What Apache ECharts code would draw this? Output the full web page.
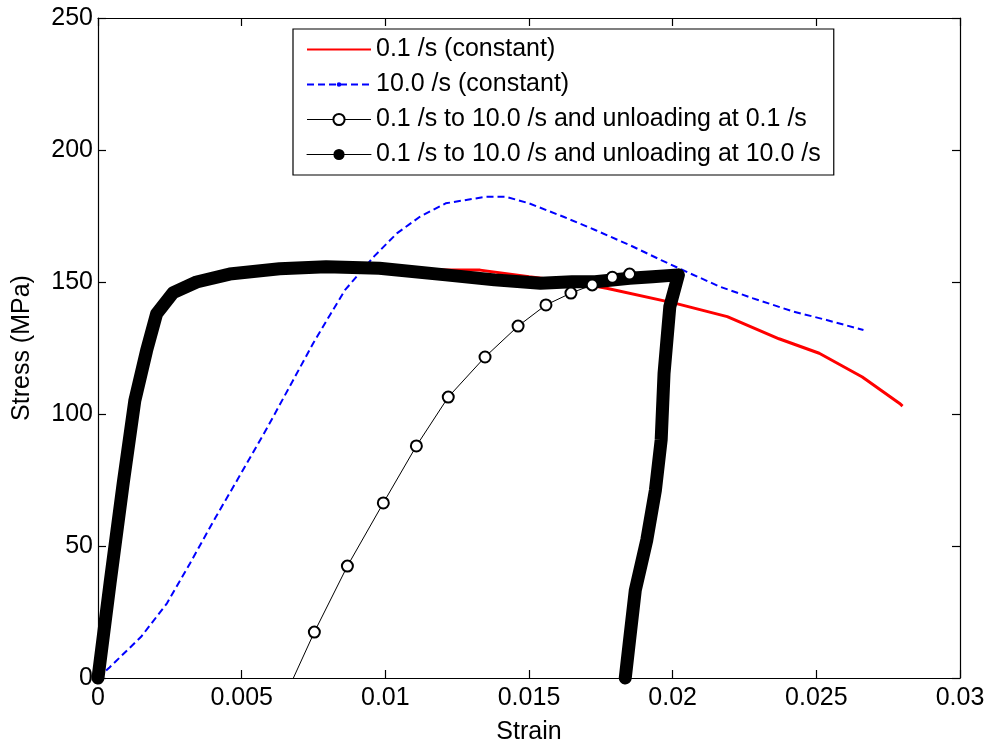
<!DOCTYPE html>
<html>
<head>
<meta charset="utf-8">
<script src="https://cdn.jsdelivr.net/npm/echarts@6/dist/echarts.min.js"></script>
<style>html,body{margin:0;padding:0;background:#fff}#chart{width:991px;height:750px}</style>
</head>
<body>
<div id="chart"></div>
<script>
// ---- data ----
const seriesNames = [
  '0.1 /s (constant)',
  '10.0 /s (constant)',
  '0.1 /s to 10.0 /s and unloading at 0.1 /s',
  '0.1 /s to 10.0 /s and unloading at 10.0 /s'
];
const xTickLabels = ['0', '0.005', '0.01', '0.015', '0.02', '0.025', '0.03'];
const yTickLabels = ['0', '50', '100', '150', '200', '250'];

// [strain, stress MPa]
const constant01 = [
  [0,0],[0.00042,36],[0.00088,74],[0.00128,105],[0.00169,124],[0.00204,138],[0.00262,146],
  [0.00343,150],[0.00458,153],[0.00632,155],[0.00794,156],[0.00979,155.5],[0.0121,154.5],
  [0.0133,154.5],[0.0150,152],[0.0165,150],[0.0177,147.6],[0.0201,141.9],[0.0219,136.9],
  [0.0237,128.5],[0.0251,123],[0.0266,114],[0.0279,104],[0.0280,103]
];
const constant10 = [
  [0,0],[0.0004,4],[0.0015,15.6],[0.0024,28.3],[0.0032,43.4],[0.0041,61],[0.0049,76],
  [0.0059,95],[0.0068,113],[0.0075,127],[0.0081,138],[0.0086,147],[0.0096,159.6],
  [0.0104,168.4],[0.0112,174.7],[0.0121,179.8],[0.0135,182.3],[0.0142,182.3],[0.0150,179.8],
  [0.0162,174.7],[0.0173,169.7],[0.0185,164],[0.0196,158.3],[0.0206,153.3],[0.02165,148.2],
  [0.0228,143.8],[0.0242,138.8],[0.02536,135.6],[0.02664,131.8]
];
const unload01Start = [0.0068, 0];
const unload01 = [
  [0.00753,17.4],[0.00868,42.4],[0.00993,66.3],[0.01108,87.9],[0.01219,106.4],[0.01347,121.6],
  [0.01462,133.3],[0.01559,141.3],[0.01646,145.8],[0.0172,148.9],[0.0179,151.8],[0.0185,153]
];
const unload10 = [
  [0,0],[0.00042,36],[0.00088,74],[0.00128,105],[0.00169,124],[0.00204,138],[0.00262,146],
  [0.00343,150],[0.00458,153],[0.00632,155],[0.00794,155.8],[0.00979,155.2],[0.0121,152.7],
  [0.0138,150.8],[0.0154,149.5],[0.0165,150.1],[0.0173,150.1],[0.0185,151.4],[0.0193,152],
  [0.0202,152.7],[0.0199,140.6],[0.0197,115.4],[0.0196,90.2],[0.0194,71.2],[0.0191,52.3],
  [0.0187,33.3],[0.0185,14.4],[0.01835,0]
];

// ---- chart ----
const FONT = '"Liberation Sans", Arial, sans-serif';
const chart = echarts.init(document.getElementById('chart'), null, {renderer: 'canvas'});

function baseAxis(extra) {
  return Object.assign({
    type: 'value',
    splitLine: {show: false},
    axisLine: {show: true, onZero: false, lineStyle: {color: '#000', width: 1.2}},
    axisTick: {show: true, inside: true, length: 8, lineStyle: {color: '#000', width: 1.2}}
  }, extra);
}

const option = {
  animation: false,
  backgroundColor: '#fff',
  grid: {left: 98, right: 31, top: 18, bottom: 72},
  legend: {
    orient: 'vertical',
    left: 293,
    top: 29,
    padding: [8, 13, 8, 13],
    itemGap: 10,
    itemWidth: 64,
    itemHeight: 14,
    borderColor: '#000',
    borderWidth: 1.2,
    backgroundColor: '#fff',
    textStyle: {fontSize: 25, lineHeight: 25, color: '#000', fontFamily: FONT},
    data: [
      {name: seriesNames[0], itemStyle: {opacity: 0}},
      {name: seriesNames[1]},
      {name: seriesNames[2], lineStyle: {width: 1}},
      {name: seriesNames[3], lineStyle: {width: 1}}
    ]
  },
  xAxis: [
    baseAxis({
      min: 0, max: 0.03, interval: 0.005, position: 'bottom',
      name: 'Strain', nameLocation: 'middle', nameGap: 42,
      nameTextStyle: {fontSize: 25, color: '#000', fontFamily: FONT},
      axisLabel: {fontSize: 25, color: '#000', fontFamily: FONT, margin: 8,
        formatter: (v, i) => xTickLabels[i]}
    }),
    baseAxis({
      min: 0, max: 0.03, interval: 0.005, position: 'top',
      axisLabel: {show: false}
    })
  ],
  yAxis: [
    baseAxis({
      min: 0, max: 250, interval: 50, position: 'left',
      name: 'Stress (MPa)', nameLocation: 'middle', nameGap: 63,
      nameTextStyle: {fontSize: 25, color: '#000', fontFamily: FONT},
      axisLabel: {fontSize: 25, color: '#000', fontFamily: FONT, margin: 5,
        formatter: (v, i) => yTickLabels[i]}
    }),
    baseAxis({
      min: 0, max: 250, interval: 50, position: 'right',
      axisLabel: {show: false}
    })
  ],
  series: [
    {
      name: seriesNames[0], type: 'line', data: constant01,
      symbol: 'none', color: '#ff0000',
      lineStyle: {color: '#ff0000', width: 3}, z: 2
    },
    {
      name: seriesNames[1], type: 'line', data: constant10,
      showSymbol: false, color: '#0000ff',
      symbol: 'path://M0,0L0,0M10,10L10,10M3,5A2,2 0 1,0 7,5A2,2 0 1,0 3,5Z',
      lineStyle: {color: '#0000ff', width: 2, type: [7, 4]}, z: 3
    },
    {
      name: seriesNames[3], type: 'line', data: unload10,
      showSymbol: false, symbol: 'circle', color: '#000',
      clip: false,
      lineStyle: {color: '#000', width: 13, cap: 'round', join: 'round'}, z: 4
    },
    {
      name: seriesNames[2], type: 'line',
      data: [{value: unload01Start, symbol: 'none'}].concat(unload01),
      symbol: 'emptyCircle', symbolSize: 11, color: '#000',
      itemStyle: {color: '#000', borderColor: '#000', borderWidth: 1.2},
      lineStyle: {color: '#000', width: 1}, z: 5
    }
  ]
};
chart.setOption(option);
</script>
</body>
</html>
